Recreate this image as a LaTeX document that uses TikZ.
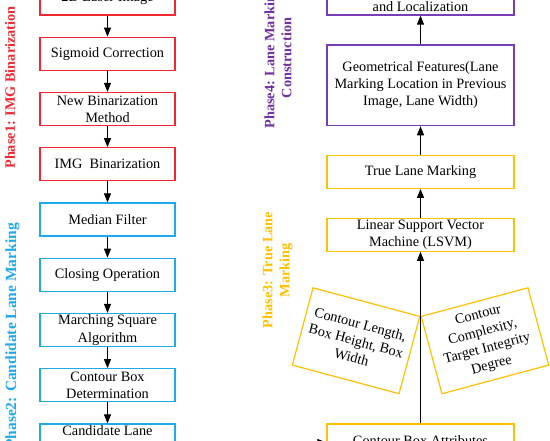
\documentclass[tikz,border=0pt]{standalone}
\usepackage{fontspec}
\setmainfont{Liberation Serif}
\usetikzlibrary{arrows.meta}
\definecolor{pred}{RGB}{240,40,50}
\definecolor{pblue}{RGB}{30,170,230}
\definecolor{porange}{RGB}{255,192,0}
\definecolor{ppurple}{RGB}{120,60,180}
\definecolor{ppurpletext}{RGB}{112,48,160}
\begin{document}
\begin{tikzpicture}[x=1pt,y=-1pt,
  base/.style={draw, line width=1.2pt, inner sep=0pt, align=center,
    font=\fontsize{14.3pt}{17.2pt}\selectfont},
  lbox/.style={base, minimum width=135pt, minimum height=33pt},
  rbox/.style={base, minimum width=187pt, minimum height=33pt},
  rotbox/.style={base, draw=porange, minimum width=110.5pt, minimum height=80pt},
  phase/.style={inner sep=0pt, align=center, rotate=90,
    font=\fontsize{14.3pt}{17.2pt}\selectfont\bfseries},
  arr/.style={line width=1pt, -{Triangle[length=9pt,width=7pt]}}
]
\useasboundingbox (0,0) rectangle (550,440);

% left column
\node[lbox, draw=pred] (laser) at (107.5,-1.5) {2D Laser Image};
\node[lbox, draw=pred] (sigmoid) at (107.5,53.75) {Sigmoid Correction};
\node[lbox, draw=pred] (newbin) at (107.5,109) {New Binarization\\Method};
\node[lbox, draw=pred] (imgbin) at (107.5,164.25) {IMG\ \ Binarization};
\node[lbox, draw=pblue] (median) at (107.5,219.5) {Median Filter};
\node[lbox, draw=pblue] (closing) at (107.5,274.75) {Closing Operation};
\node[lbox, draw=pblue] (march) at (107.5,330) {Marching Square\\Algorithm};
\node[lbox, draw=pblue] (cbdet) at (107.5,385.25) {Contour Box\\Determination};
\node[lbox, draw=pblue] (cand) at (107.5,440.5) {Candidate Lane\\\phantom{Marking}};

% right column
\node[rbox, draw=porange] (attr) at (420.5,440.5) {Contour Box Attributes};
\node[rbox, draw=porange] (lsvm) at (420.5,234.7) {Linear Support Vector\\Machine (LSVM)};
\node[rbox, draw=porange] (truelane) at (420.5,171.8) {True Lane Marking};
\node[rbox, draw=ppurple, minimum height=80.7pt] (geo) at (420.5,85.3)
  {Geometrical Features(Lane\\Marking Location in Previous\\Image, Lane Width)};
\node[rbox, draw=ppurple] (loc) at (420.5,-1.5) {\phantom{Lane Marking}\\and Localization};

% rotated feature boxes
\coordinate (meet) at (420.5,316);
\node[rotbox, rotate=-15, anchor=north east] (featA) at (meet)
  {Contour Length,\\Box Height, Box\\Width};
\node[rotbox, rotate=15, anchor=north west] (featB) at (meet)
  {Contour\\Complexity,\\Target Integrity\\Degree};

% phase labels
\node[phase, text=pred] (ph1) at (10,87.5) {Phase1: IMG Binarization};
\node[phase, text=pblue, font=\fontsize{15.5pt}{18pt}\selectfont\bfseries] (ph2) at (12.5,336) {Phase2: Candidate Lane Marking};
\node[phase, text=porange] (ph3) at (277.5,270) {Phase3: True Lane\\Marking};
\node[phase, text=ppurpletext] (ph4) at (278,58) {Phase4: Lane Marking\\Construction};

% arrows left
\draw[arr] (laser.south) -- (sigmoid.north);
\draw[arr] (sigmoid.south) -- (newbin.north);
\draw[arr] (newbin.south) -- (imgbin.north);
\draw[arr] (imgbin.south) -- (median.north);
\draw[arr] (median.south) -- (closing.north);
\draw[arr] (closing.south) -- (march.north);
\draw[arr] (march.south) -- (cbdet.north);
\draw[arr] (cbdet.south) -- (cand.north);
% bottom link
\draw[arr] ([yshift=-2pt]cand.east) -- ([yshift=-2pt]attr.west);
% arrows right
\draw[arr] (attr.north) -- (lsvm.south);
\draw[arr] (lsvm.north) -- (truelane.south);
\draw[arr] (truelane.north) -- (geo.south);
\draw[arr] (geo.north) -- (loc.south);
\end{tikzpicture}
\end{document}
